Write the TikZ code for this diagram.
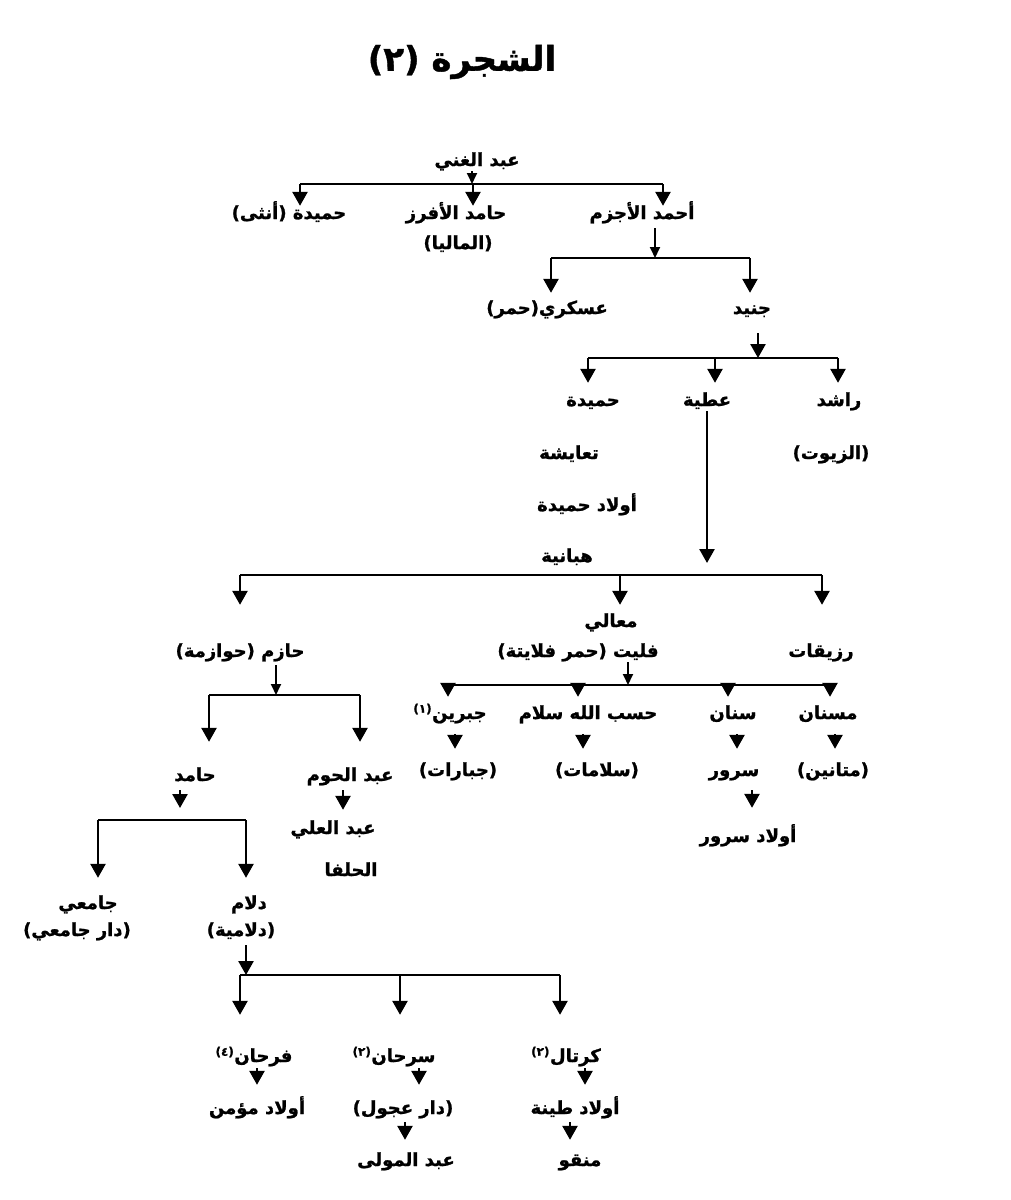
\documentclass[tikz,border=0pt]{standalone}
\usepackage{fontspec}
\newfontfamily\arabicfont[Script=Arabic,BoldFeatures={FakeBold=1.2}]{DejaVu Sans}
\TeXXeTstate=1
\usetikzlibrary{arrows.meta}

\tikzset{
  lbl/.style={font=\arabicfont\bfseries\fontsize{18}{20}\selectfont,
    inner sep=1pt, text height=12pt, text depth=4pt},
  link/.style={line width=2.6pt},
  arr/.style={line width=2.6pt, -{Triangle[width=15pt,length=14pt]}},
  stub/.style={line width=1.8pt, -{Triangle[width=10pt,length=11pt]}},
}
\newcommand{\rtl}[1]{\beginR #1\endR}
\newcommand{\fn}[1]{\textsuperscript{\fontsize{12}{12}\selectfont(#1)}}

\begin{document}
\begin{tikzpicture}[x=1pt,y=-1pt]
  \useasboundingbox (0,0) rectangle (1011,1200);
  \node[font=\arabicfont\bfseries\fontsize{34}{40}\selectfont] (title) at (462,62) {\rtl{الشجرة (٢)}};

  % names
  \node[lbl] (ghani)     at (477,162) {\rtl{عبد الغني}};
  \node[lbl] (hamida1)   at (289,215) {\rtl{حميدة (أنثى)}};
  \node[lbl] (hamid)     at (456,215) {\rtl{حامد الأفرز}};
  \node[lbl] (maliya)    at (458,245) {\rtl{(الماليا)}};
  \node[lbl] (ahmad)     at (642,215) {\rtl{أحمد الأجزم}};
  \node[lbl] (askari)    at (547,310) {\rtl{عسكري(حمر)}};
  \node[lbl] (junaid)    at (752,310) {\rtl{جنيد}};
  \node[lbl] (hamida2)   at (593,402) {\rtl{حميدة}};
  \node[lbl] (atiya)     at (707,402) {\rtl{عطية}};
  \node[lbl] (rashid)    at (839,402) {\rtl{راشد}};
  \node[lbl] (zayyut)    at (831,455) {\rtl{(الزيوت)}};
  \node[lbl] (taayisha)  at (569,455) {\rtl{تعايشة}};
  \node[lbl] (awladham)  at (587,507) {\rtl{أولاد حميدة}};
  \node[lbl] (habaniya)  at (567,558) {\rtl{هبانية}};
  \node[lbl] (maali)     at (611,623) {\rtl{معالي}};
  \node[lbl] (falit)     at (578,653) {\rtl{فليت (حمر فلايتة)}};
  \node[lbl] (razayqat)  at (821,653) {\rtl{رزيقات}};
  \node[lbl] (hazim)     at (240,653) {\rtl{حازم (حوازمة)}};
  \node[lbl] (jibrin)    at (450,715) {\rtl{جبرين\fn{١}}};
  \node[lbl] (hasab)     at (588,715) {\rtl{حسب الله سلام}};
  \node[lbl] (sinan)     at (733,715) {\rtl{سنان}};
  \node[lbl] (misnan)    at (828,715) {\rtl{مسنان}};
  \node[lbl] (jubarat)   at (458,772) {\rtl{(جبارات)}};
  \node[lbl] (salamat)   at (597,772) {\rtl{(سلامات)}};
  \node[lbl] (surur)     at (734,772) {\rtl{سرور}};
  \node[lbl] (matanin)   at (833,772) {\rtl{(متانين)}};
  \node[lbl] (awladsur)  at (748,838) {\rtl{أولاد سرور}};
  \node[lbl] (hamid2)    at (195,777) {\rtl{حامد}};
  \node[lbl] (abdhawm)   at (350,777) {\rtl{عبد الحوم}};
  \node[lbl] (abdali)    at (333,830) {\rtl{عبد العلي}};
  \node[lbl] (halfa)     at (351,872) {\rtl{الحلفا}};
  \node[lbl] (jamii)     at (88,905)  {\rtl{جامعي}};
  \node[lbl] (darjamii)  at (77,932)  {\rtl{(دار جامعي)}};
  \node[lbl] (dallam)    at (249,905) {\rtl{دلام}};
  \node[lbl] (dallamiya) at (241,932) {\rtl{(دلامية)}};
  \node[lbl] (farhan)    at (254,1058) {\rtl{فرحان\fn{٤}}};
  \node[lbl] (sarhan)    at (394,1058) {\rtl{سرحان\fn{٢}}};
  \node[lbl] (kirtal)    at (566,1058) {\rtl{كرتال\fn{٢}}};
  \node[lbl] (awladmum)  at (257,1110) {\rtl{أولاد مؤمن}};
  \node[lbl] (darajul)   at (403,1110) {\rtl{(دار عجول)}};
  \node[lbl] (awladtina) at (575,1110) {\rtl{أولاد طينة}};
  \node[lbl] (abdmawla)  at (406,1162) {\rtl{عبد المولى}};
  \node[lbl] (manqu)     at (580,1162) {\rtl{منقو}};

  % where the arrows reach each child
  \coordinate (hamida1-in)  at ([xshift=11pt]hamida1.north);
  \coordinate (hamid-in)    at ([xshift=17pt]hamid.north);
  \coordinate (ahmad-in)    at ([xshift=21pt]ahmad.north);
  \coordinate (askari-in)   at ([xshift=4pt,yshift=8pt]askari.north);
  \coordinate (junaid-in)   at ([xshift=-2pt,yshift=8pt]junaid.north);
  \coordinate (hamida2-in)  at ([xshift=-5pt,yshift=10pt]hamida2.north);
  \coordinate (atiya-in)    at ([xshift=8pt,yshift=10pt]atiya.north);
  \coordinate (rashid-in)   at ([xshift=-1pt,yshift=10pt]rashid.north);
  \coordinate (hazim-in)    at ([yshift=39pt]hazim.north);
  \coordinate (maali-in)    at ([xshift=9pt,yshift=9pt]maali.north);
  \coordinate (razayqat-in) at ([xshift=1pt,yshift=39pt]razayqat.north);
  \coordinate (jibrin-in)   at ([xshift=-2pt,yshift=9pt]jibrin.north);
  \coordinate (hasab-in)    at ([xshift=-10pt,yshift=9pt]hasab.north);
  \coordinate (sinan-in)    at ([xshift=-5pt,yshift=9pt]sinan.north);
  \coordinate (misnan-in)   at ([xshift=2pt,yshift=9pt]misnan.north);
  \coordinate (hamid2-in)   at ([xshift=14pt,yshift=26pt]hamid2.north);
  \coordinate (abdhawm-in)  at ([xshift=10pt,yshift=26pt]abdhawm.north);
  \coordinate (jamii-in)    at ([xshift=10pt,yshift=18pt]jamii.north);
  \coordinate (dallam-in)   at ([xshift=-3pt,yshift=18pt]dallam.north);
  \coordinate (farhan-in)   at ([xshift=-14pt,yshift=34pt]farhan.north);
  \coordinate (sarhan-in)   at ([xshift=6pt,yshift=34pt]sarhan.north);
  \coordinate (kirtal-in)   at ([xshift=-6pt,yshift=34pt]kirtal.north);

  % bars
  \coordinate (b1) at (0,184);
  \coordinate (b2) at (0,258);
  \coordinate (b3) at (0,358);
  \coordinate (b4) at (0,575);
  \coordinate (b5) at (0,685);
  \coordinate (b6) at (0,695);
  \coordinate (b7) at (0,820);
  \coordinate (b8) at (0,975);

  % عبد الغني
  \draw[stub] ([xshift=-5pt]ghani.south) -- ([xshift=-5pt]ghani.south |- b1);
  \draw[link] (hamida1-in |- b1) -- (ahmad-in |- b1);
  \foreach \c in {hamida1,hamid,ahmad} \draw[arr] (\c-in |- b1) -- (\c-in);

  % أحمد الأجزم
  \draw[stub, shorten <=4pt] ([xshift=13pt]ahmad.south) -- ([xshift=13pt]ahmad.south |- b2);
  \draw[link] (askari-in |- b2) -- (junaid-in |- b2);
  \foreach \c in {askari,junaid} \draw[arr] (\c-in |- b2) -- (\c-in);

  % جنيد
  \draw[arr, shorten <=14pt] ([xshift=6pt]junaid.south) -- ([xshift=6pt]junaid.south |- b3);
  \draw[link] (hamida2-in |- b3) -- (rashid-in |- b3);
  \foreach \c in {hamida2,atiya,rashid} \draw[arr] (\c-in |- b3) -- (\c-in);

  % عطية
  \draw[arr, shorten >=12pt] (atiya.south) -- (atiya.south |- b4);
  \draw[link] (hazim-in |- b4) -- (razayqat-in |- b4);
  \foreach \c in {hazim,maali,razayqat} \draw[arr] (\c-in |- b4) -- (\c-in);

  % فليت
  \draw[stub] ([xshift=50pt]falit.south) -- ([xshift=50pt]falit.south |- b5);
  \draw[link] (jibrin-in |- b5) -- (misnan-in |- b5);
  \foreach \c in {jibrin,hasab,sinan,misnan} \draw[arr] (\c-in |- b5) -- (\c-in);
  \draw[arr, shorten <=10pt, shorten >=14pt] ([xshift=5pt]jibrin.south) -- ([xshift=5pt]jibrin.south |- jubarat.north);
  \draw[arr, shorten <=10pt, shorten >=14pt] ([xshift=-5pt]hasab.south) -- ([xshift=-5pt]hasab.south |- salamat.north);
  \draw[arr, shorten <=10pt, shorten >=14pt] ([xshift=4pt]sinan.south) -- ([xshift=4pt]sinan.south |- surur.north);
  \draw[arr, shorten <=10pt, shorten >=14pt] ([xshift=7pt]misnan.south) -- ([xshift=7pt]misnan.south |- matanin.north);
  \draw[arr, shorten <=9pt, shorten >=21pt] ([xshift=18pt]surur.south) -- ([xshift=18pt]surur.south |- awladsur.north);

  % حازم
  \draw[stub, shorten <=3pt] ([xshift=36pt]hazim.south) -- ([xshift=36pt]hazim.south |- b6);
  \draw[link] (hamid2-in |- b6) -- (abdhawm-in |- b6);
  \foreach \c in {hamid2,abdhawm} \draw[arr] (\c-in |- b6) -- (\c-in);
  \draw[arr, shorten <=4pt, shorten >=11pt] ([xshift=-7pt]abdhawm.south) -- ([xshift=-7pt]abdhawm.south |- abdali.north);

  % حامد
  \draw[arr, shorten <=4pt, shorten >=12pt] ([xshift=-15pt]hamid2.south) -- ([xshift=-15pt]hamid2.south |- b7);
  \draw[link] (jamii-in |- b7) -- (dallam-in |- b7);
  \foreach \c in {jamii,dallam} \draw[arr] (\c-in |- b7) -- (\c-in);

  % دلام
  \draw[arr, shorten <=4pt] ([xshift=5pt]dallamiya.south) -- ([xshift=5pt]dallamiya.south |- b8);
  \draw[link] (farhan-in |- b8) -- (kirtal-in |- b8);
  \foreach \c in {farhan,sarhan,kirtal} \draw[arr] (\c-in |- b8) -- (\c-in);
  \draw[arr, shorten <=1pt, shorten >=16pt] ([xshift=3pt]farhan.south) -- ([xshift=3pt]farhan.south |- awladmum.north);
  \draw[arr, shorten <=1pt, shorten >=16pt] ([xshift=25pt]sarhan.south) -- ([xshift=25pt]sarhan.south |- darajul.north);
  \draw[arr, shorten <=1pt, shorten >=16pt] ([xshift=19pt]kirtal.south) -- ([xshift=19pt]kirtal.south |- awladtina.north);
  \draw[arr, shorten <=3pt, shorten >=13pt] ([xshift=2pt]darajul.south) -- ([xshift=2pt]darajul.south |- abdmawla.north);
  \draw[arr, shorten <=3pt, shorten >=13pt] ([xshift=-5pt]awladtina.south) -- ([xshift=-5pt]awladtina.south |- manqu.north);
\end{tikzpicture}
\end{document}
